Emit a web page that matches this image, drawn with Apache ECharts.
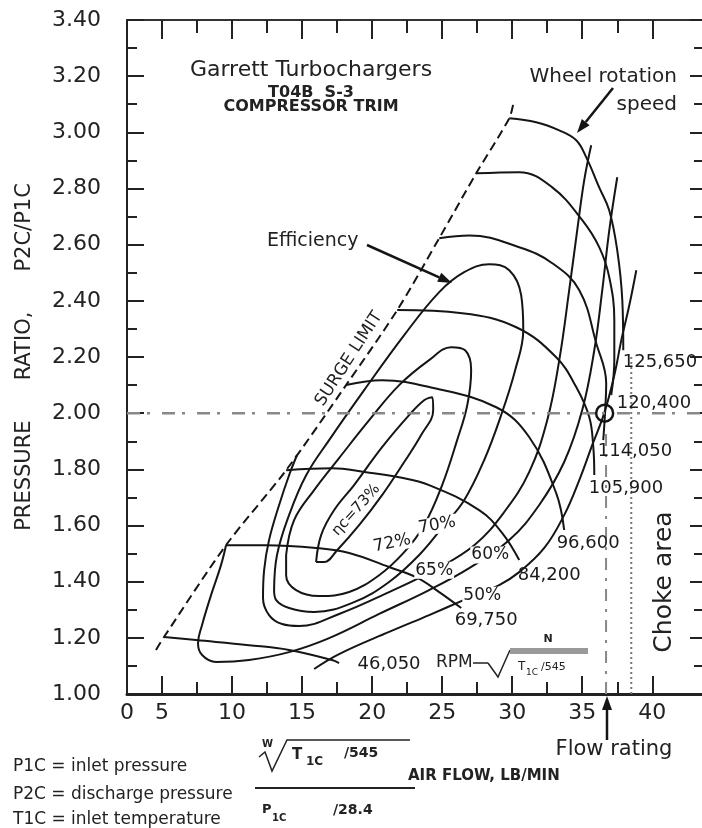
<!DOCTYPE html>
<html lang="en">
<head>
    <title>compressor map</title>
    <meta charset="utf-8">
    <style>
        html, body { margin: 0; padding: 0; background: #fff; }
    </style>
</head>
<body>
<script type="text/javascript" src="https://cdn.jsdelivr.net/npm/echarts@6/dist/echarts.min.js"></script>
<div id="main" style="width: 702px;height: 828px"></div>
<script type="text/javascript">
    // axis ticks (x = corrected air flow, y = pressure ratio)
    var xMajor = [5, 10, 15, 20, 25, 30, 35, 40];
    var xMinor = [7.5, 12.5, 17.5, 22.5, 27.5, 32.5, 37.5];
    var xLabelValues = [2.5, 5, 10, 15, 20, 25, 30, 35, 40]; // 2.5 sits at the corner, printed as "0"

    var surgeLimit = [[4.57, 1.157], [5.14, 1.203], [9.57, 1.53], [13.86, 1.797], [18.14, 2.1], [21.79, 2.367],
        [24.79, 2.623], [27.43, 2.854], [29.79, 3.05], [30.07, 3.1]];

    // wheel speed lines
    var rpm46050 = [[5.14, 1.203], [7.43, 1.192], [11.21, 1.174], [14.07, 1.157], [17.14, 1.121], [17.64, 1.11]];
    var rpm69750 = [[9.57, 1.53], [12.43, 1.53], [16.0, 1.52], [18.36, 1.502], [21.21, 1.452], [23.14, 1.416], [24.79, 1.363], [26.36, 1.306]];
    var rpm84200 = [[13.86, 1.797], [17.14, 1.804], [19.57, 1.79], [21.93, 1.772], [24.07, 1.744], [27.64, 1.655], [29.29, 1.573], [30.5, 1.477]];
    var rpm96600 = [[18.14, 2.1], [20.71, 2.117], [24.07, 2.093], [28.86, 2.021], [31.21, 1.915], [33.14, 1.715], [33.71, 1.584]];
    var rpm105900 = [[21.79, 2.367], [26.43, 2.356], [30.29, 2.306], [33.14, 2.199], [34.57, 2.093], [35.5, 1.986], [35.79, 1.879], [35.86, 1.78]];
    var rpm114050 = [[24.79, 2.623], [26.93, 2.633], [30.5, 2.591], [32.86, 2.534], [34.79, 2.438], [36.0, 2.249], [36.71, 2.107], [36.64, 2.011], [36.5, 1.904]];
    var rpm120400 = [[27.43, 2.854], [30.5, 2.858], [32.86, 2.804], [35.0, 2.687], [36.21, 2.591], [36.93, 2.484], [37.29, 2.331], [37.29, 2.189], [37.07, 2.064]];
    var rpm125650 = [[29.79, 3.05], [31.71, 3.036], [33.36, 3.007], [34.57, 2.972], [35.29, 2.911], [36.21, 2.804], [36.93, 2.722], [37.5, 2.58], [37.86, 2.402], [37.93, 2.224]];
    var speedNames = ['46,050', '69,750', '84,200', '96,600', '105,900', '114,050', '120,400', '125,650'];
    var speedLines = [rpm46050, rpm69750, rpm84200, rpm96600, rpm105900, rpm114050, rpm120400, rpm125650];

    // efficiency islands
    var eff73 = [[16.0, 1.47], [16.36, 1.566], [17.29, 1.655], [18.71, 1.744], [20.71, 1.879], [22.64, 1.993], [23.71, 2.046],
        [24.29, 2.057], [24.36, 2.011], [23.5, 1.922], [22.29, 1.826], [20.71, 1.708], [19.07, 1.601], [17.5, 1.512], [16.57, 1.47], [16.0, 1.47]];
    var eff72 = [[13.86, 1.495], [14.43, 1.619], [15.86, 1.726], [17.64, 1.84], [19.79, 1.975], [21.93, 2.1], [24.07, 2.189],
        [25.64, 2.235], [26.64, 2.224], [27.07, 2.153], [26.79, 2.028], [26.07, 1.904], [25.0, 1.744], [23.71, 1.601],
        [22.29, 1.505], [20.5, 1.423], [18.36, 1.363], [16.21, 1.349], [14.57, 1.37], [13.86, 1.423], [13.86, 1.495]];
    var eff70 = [[13.0, 1.37], [13.21, 1.495], [14.07, 1.637], [15.29, 1.779], [16.93, 1.904], [19.43, 2.082], [22.29, 2.278],
        [24.79, 2.431], [26.57, 2.502], [28.36, 2.53], [29.79, 2.509], [30.64, 2.42], [30.79, 2.295], [30.21, 2.153],
        [29.21, 1.993], [28.0, 1.833], [26.57, 1.69], [25.14, 1.601], [23.36, 1.495], [21.21, 1.399], [18.71, 1.327],
        [15.86, 1.292], [14.07, 1.306], [13.14, 1.335], [13.0, 1.37]];
    var eff65 = [[14.64, 1.851], [14.07, 1.779], [13.36, 1.673], [12.64, 1.548], [12.29, 1.441], [12.21, 1.342], [12.64, 1.281],
        [13.57, 1.249], [14.79, 1.242], [17.64, 1.285], [21.21, 1.363], [24.43, 1.441], [27.29, 1.53], [29.43, 1.648],
        [31.21, 1.79], [32.5, 1.975], [33.36, 2.189], [34.07, 2.438], [34.64, 2.651], [35.14, 2.829], [35.64, 2.954]];
    var eff60 = [[9.57, 1.53], [9.21, 1.459], [8.5, 1.352], [7.86, 1.246], [7.57, 1.181], [7.86, 1.139], [8.86, 1.114],
        [11.21, 1.121], [14.07, 1.149], [16.93, 1.199], [20.5, 1.285], [24.07, 1.37], [26.93, 1.448], [29.79, 1.548],
        [31.93, 1.673], [33.71, 1.826], [35.0, 2.011], [35.86, 2.224], [36.43, 2.438], [36.93, 2.651], [37.5, 2.84]];
    var eff50 = [[15.86, 1.089], [17.64, 1.142], [21.21, 1.221], [24.07, 1.281], [26.57, 1.335], [29.07, 1.388], [30.5, 1.434],
        [32.29, 1.52], [33.71, 1.637], [34.79, 1.762], [35.71, 1.886], [36.57, 2.0], [37.29, 2.135], [37.79, 2.26],
        [38.36, 2.384], [38.86, 2.509]];
    var effLines = [eff73, eff72, eff70, eff65, eff60, eff50];

    // efficiency labels: text, flow, pressure ratio
    var effNotes = [['ηc=73%', 18.86, 1.655], ['72%', 21.43, 1.537], ['70%', 24.64, 1.601],
        ['65%', 24.43, 1.441], ['60%', 28.43, 1.495], ['50%', 27.86, 1.352]];
    var effNoteAngles = [48, 12, 10, 0, 0, 0];

    // rating point and choke limit
    var ratingRatio = 2.0;
    var ratingFlow = 36.7;
    var chokeFlow = 38.5;
    var chokeTop = 2.2;

    var xMin = 2.5, xMax = 43.55;

    // label offsets (px) from the end of each speed line
    var speedLabelOffsets = [[18, 1], [-7, 12], [-2, 15], [-8, 13], [-6, 13], [-6, 11], [5, 8], [-1, 12]];

    var FONT = 'DejaVu Sans';
    var INK = '#151515';
    var CLEAR = 'rgba(0,0,0,0)';

    function note(x, y, text, size, opts) {
        opts = opts || {};
        var al = opts.align || 'left';
        return {
            type: 'text', x: x, y: y, rotation: (opts.rot || 0) * Math.PI / 180, silent: true,
            style: {
                x: 0, y: 0, text: text, fontSize: size, fontFamily: FONT,
                fontWeight: opts.bold ? 'bold' : 'normal', fill: opts.color || '#222',
                align: al, verticalAlign: 'middle', textAlign: al, textVerticalAlign: 'middle'
            }
        };
    }

    function arrow(x1, y1, x2, y2) {
        var dx = x2 - x1, dy = y2 - y1, len = Math.sqrt(dx * dx + dy * dy);
        var ux = dx / len, uy = dy / len, head = 14, half = 5;
        var bx = x2 - ux * head, by = y2 - uy * head;
        return [
            {type: 'line', silent: true, shape: {x1: x1, y1: y1, x2: bx, y2: by}, style: {stroke: INK, lineWidth: 2.5}},
            {type: 'polygon', silent: true, shape: {points: [[x2, y2], [bx - uy * half, by + ux * half], [bx + uy * half, by - ux * half]]}, style: {fill: INK}}
        ];
    }

    var graphics = [
        note(311, 70, 'Garrett Turbochargers', 22, {align: 'center'}),
        note(311, 93, 'T04B  S-3', 16, {align: 'center', bold: true}),
        note(311, 107, 'COMPRESSOR TRIM', 16, {align: 'center', bold: true}),
        note(677, 77, 'Wheel rotation', 20, {align: 'right'}),
        note(677, 105, 'speed', 20, {align: 'right'}),
        note(267, 241, 'Efficiency', 19),
        note(349, 359, 'SURGE LIMIT', 17, {align: 'center', rot: 57}),
        note(664, 582, 'Choke area', 25, {align: 'center', rot: 90}),
        note(614, 750, 'Flow rating', 21, {align: 'center'}),
        note(13, 767, 'P1C = inlet pressure', 17),
        note(13, 795, 'P2C = discharge pressure', 17),
        note(13, 820, 'T1C = inlet temperature', 17),
        // flow parameter formula
        note(262, 744, 'W', 10, {bold: true}),
        {type: 'polyline', silent: true, shape: {points: [[259, 757], [265, 752], [272, 771], [287, 740], [410, 740]]}, style: {stroke: '#222', lineWidth: 1.5, fill: null}},
        note(292, 755, 'T', 15, {bold: true}),
        note(306, 762, '1C', 12, {bold: true}),
        note(344, 753, '/545', 14, {bold: true}),
        {type: 'line', silent: true, shape: {x1: 255, y1: 788, x2: 415, y2: 788}, style: {stroke: '#222', lineWidth: 2}},
        note(262, 810, 'P', 13, {bold: true}),
        note(272, 818, '1C', 10, {bold: true}),
        note(333, 810, '/28.4', 14, {bold: true}),
        note(408, 776, 'AIR FLOW, LB/MIN', 15, {bold: true}),
        // corrected speed expression
        note(436, 663, 'RPM', 17),
        {type: 'line', silent: true, shape: {x1: 473, y1: 663, x2: 488, y2: 663}, style: {stroke: '#222', lineWidth: 1.5}},
        {type: 'polyline', silent: true, shape: {points: [[488, 663], [498, 677], [510, 650]]}, style: {stroke: '#222', lineWidth: 1.5, fill: null}},
        {type: 'rect', silent: true, shape: {x: 510, y: 648, width: 78, height: 6}, style: {fill: '#999'}},
        note(548, 639, 'N', 11, {align: 'center', bold: true}),
        note(518, 667, 'T', 12),
        note(526, 673, '1C', 9),
        note(541, 667, '/545', 11)
    ].concat(arrow(613, 88, 577, 133), arrow(367, 245, 452, 283), arrow(607, 740, 607, 696));

    var series = [];
    series.push({
        name: 'surge', type: 'line', data: surgeLimit, symbol: 'none', smooth: 0.3,
        lineStyle: {color: INK, width: 2, type: [9, 5]}
    });
    speedLines.forEach(function (pts, i) {
        series.push({
            name: speedNames[i], type: 'line', data: pts, symbol: 'none', smooth: 0.4,
            lineStyle: {color: INK, width: 2}
        });
    });
    effLines.forEach(function (pts, i) {
        series.push({
            name: 'eff' + i, type: 'line', data: pts, symbol: 'none', smooth: 0.4,
            lineStyle: {color: INK, width: 2}
        });
    });
    // reference lines
    series.push({
        name: 'ratio', type: 'line', data: [[xMin, ratingRatio], [xMax, ratingRatio]], symbol: 'none',
        lineStyle: {color: '#888', width: 2.5, type: [13, 7, 3, 12]}
    });
    series.push({
        name: 'rating', type: 'line', data: [[ratingFlow, 1], [ratingFlow, 1.95]], symbol: 'none',
        lineStyle: {color: '#888', width: 2, type: [12, 8, 3, 8]}
    });
    series.push({
        name: 'choke', type: 'line', data: [[chokeFlow, 1], [chokeFlow, chokeTop]], symbol: 'none',
        lineStyle: {color: '#777', width: 2, type: [2, 3]}
    });
    series.push({
        name: 'point', type: 'scatter', data: [[ratingFlow - 0.1, ratingRatio]], symbol: 'circle', symbolSize: 17,
        itemStyle: {color: CLEAR, borderColor: INK, borderWidth: 2.5, opacity: 1}
    });
    // speed labels at the end of each speed line
    series.push({
        name: 'speedLabels', type: 'scatter', symbolSize: 1, itemStyle: {color: CLEAR, opacity: 1},
        data: speedLines.map(function (pts, i) {
            return {name: speedNames[i], value: pts[pts.length - 1], label: {offset: speedLabelOffsets[i]}};
        }),
        label: {show: true, position: 'right', distance: 0, formatter: '{b}', fontFamily: FONT, fontSize: 18, color: '#1a1a1a'},
        z: 5
    });
    // efficiency labels
    series.push({
        name: 'effLabels', type: 'scatter', symbolSize: 1, itemStyle: {color: CLEAR, opacity: 1},
        data: effNotes.map(function (n, i) {
            return {name: n[0], value: [n[1], n[2]], label: {rotate: effNoteAngles[i], fontSize: i === 0 ? 15 : 17}};
        }),
        label: {show: true, position: 'inside', formatter: '{b}', fontFamily: FONT, color: '#1a1a1a', backgroundColor: '#fff', padding: [0, 1]},
        z: 5
    });

    var chart = echarts.init(document.getElementById('main'));
    var option = {
        animation: false,
        textStyle: {fontFamily: FONT},
        grid: {left: 127, right: 0, top: 20, bottom: 134},
        xAxis: [{
            type: 'value', position: 'bottom', min: xMin, max: xMax,
            axisLine: {show: true, lineStyle: {color: '#222', width: 3}},
            axisTick: {show: true, inside: true, length: 18, customValues: xMajor, lineStyle: {color: '#222', width: 2}},
            axisLabel: {
                customValues: xLabelValues, margin: 8, fontSize: 22, color: '#222', fontFamily: FONT,
                formatter: function (v) { return v === xMin ? '0' : String(v); }
            },
            splitLine: {show: false}
        }, {
            type: 'value', position: 'bottom', min: xMin, max: xMax,
            axisLine: {show: false},
            axisTick: {show: true, inside: true, length: 12, customValues: xMinor, lineStyle: {color: '#222', width: 2}},
            axisLabel: {show: false}, splitLine: {show: false}
        }, {
            type: 'value', position: 'top', min: xMin, max: xMax,
            axisLine: {show: true, lineStyle: {color: '#333', width: 2}},
            axisTick: {show: true, inside: true, length: 19, customValues: xMajor, lineStyle: {color: '#222', width: 2}},
            axisLabel: {show: false}, splitLine: {show: false}
        }, {
            type: 'value', position: 'top', min: xMin, max: xMax,
            axisLine: {show: false},
            axisTick: {show: true, inside: true, length: 13, customValues: xMinor, lineStyle: {color: '#222', width: 2}},
            axisLabel: {show: false}, splitLine: {show: false}
        }],
        yAxis: [{
            type: 'value', position: 'left', min: 1, max: 3.4, interval: 0.2,
            name: 'PRESSURE      RATIO,      P2C/P1C', nameLocation: 'middle', nameGap: 92,
            nameTextStyle: {fontSize: 21, color: '#222', fontFamily: FONT},
            axisLine: {show: true, lineStyle: {color: '#222', width: 2}},
            axisTick: {show: true, inside: true, length: 17, lineStyle: {color: '#222', width: 2}},
            minorTick: {show: true, splitNumber: 2, length: 10, lineStyle: {color: '#222', width: 2}},
            axisLabel: {margin: 26, fontSize: 22, color: '#222', fontFamily: FONT,
                formatter: function (v) { return v.toFixed(2); }},
            splitLine: {show: false}
        }, {
            type: 'value', position: 'right', min: 1, max: 3.4, interval: 0.2,
            axisLine: {show: false},
            axisTick: {show: true, inside: true, length: 12, lineStyle: {color: '#222', width: 2}},
            minorTick: {show: true, splitNumber: 2, length: 8, lineStyle: {color: '#222', width: 2}},
            axisLabel: {show: false}, splitLine: {show: false}
        }],
        series: series,
        graphic: graphics
    };
    chart.setOption(option);
</script>
</body>
</html>
